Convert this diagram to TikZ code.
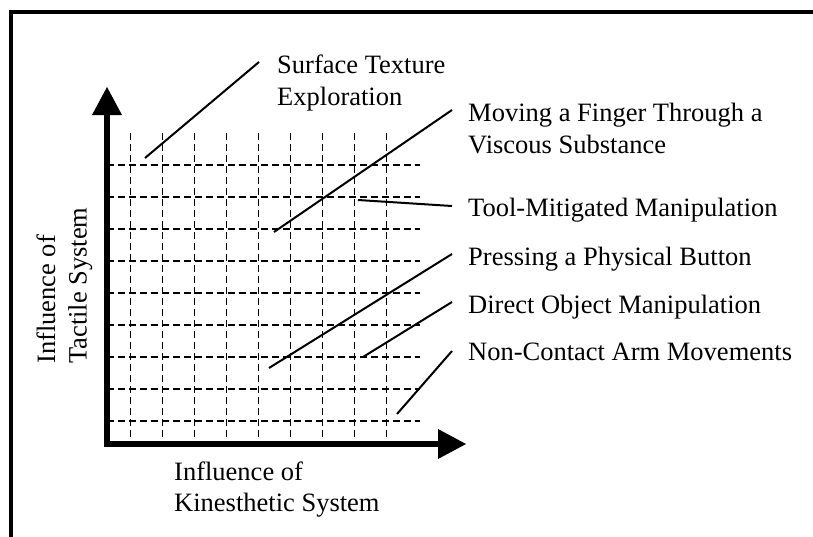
\documentclass[tikz,border=0pt]{standalone}
\usepackage{fontspec}
\setmainfont{Liberation Serif}
\usetikzlibrary{arrows.meta}
\begin{document}
\begin{tikzpicture}[x=1pt,y=-1pt,
  lbl/.style={inner sep=0pt, anchor=base west, align=left, font=\fontsize{26.5pt}{31.7pt}\selectfont},
  gridline/.style={line width=1.5pt, dash pattern=on 7pt off 4pt},
  leader/.style={line width=2pt},
  axis/.style={line width=5.5pt, line join=miter, {Triangle[length=28pt,width=30pt,line width=0pt]}-{Triangle[length=28pt,width=30pt,line width=0pt]}},
  frame/.style={line width=4pt, line join=miter}]
\useasboundingbox (0,0) rectangle (813,536);
\clip (0,0) rectangle (813,536);
% frame
\draw[frame] (11.3,560) -- (11.3,12) -- (840,12);
% grid
\foreach \i in {0,...,8} \draw[gridline] ({130.7+32*\i},133) -- ({130.7+32*\i},441);
\foreach \j in {0,...,8} \draw[gridline] (107,{165+32*\j}) -- (420,{165+32*\j});
% axes
\coordinate (ytip) at (107,87);
\coordinate (origin) at (107,444);
\coordinate (xtip) at (466,444);
\draw[axis] (ytip) -- (origin) -- (xtip);
% labels (base anchor = baseline of the last line)
\node[lbl] (surf) at (277,105) {Surface Texture\\Exploration};
\node[lbl] (mov) at (468,153.4) {Moving a Finger Through a\\Viscous Substance};
\node[lbl] (tool) at (468,216.7) {Tool-Mitigated Manipulation};
\node[lbl] (press) at (468,265) {Pressing a Physical Button};
\node[lbl] (direct) at (468,313.3) {Direct Object Manipulation};
\node[lbl] (nonc) at (468,360.7) {Non-Contact Arm Movements};
\node[lbl] (xlab) at (174,511.7) {Influence of\\Kinesthetic System};
\node[lbl, rotate=90] (ylab) at (86.7,364) {Influence of\\Tactile System};
% leader end points
\coordinate (surfA) at (145,158);   \coordinate (surfB) at (259,62);
\coordinate (movA) at (274,232);    \coordinate (movB) at (452,110);
\coordinate (toolA) at (358,200);   \coordinate (toolB) at (452,206);
\coordinate (pressA) at (269,368);  \coordinate (pressB) at (452,254);
\coordinate (directA) at (363,357); \coordinate (directB) at (452,302);
\coordinate (noncA) at (397,414);   \coordinate (noncB) at (452,351);
\draw[leader] (surfA) -- (surfB);
\draw[leader] (movA) -- (movB);
\draw[leader] (toolA) -- (toolB);
\draw[leader] (pressA) -- (pressB);
\draw[leader] (directA) -- (directB);
\draw[leader] (noncA) -- (noncB);
\end{tikzpicture}
\end{document}
